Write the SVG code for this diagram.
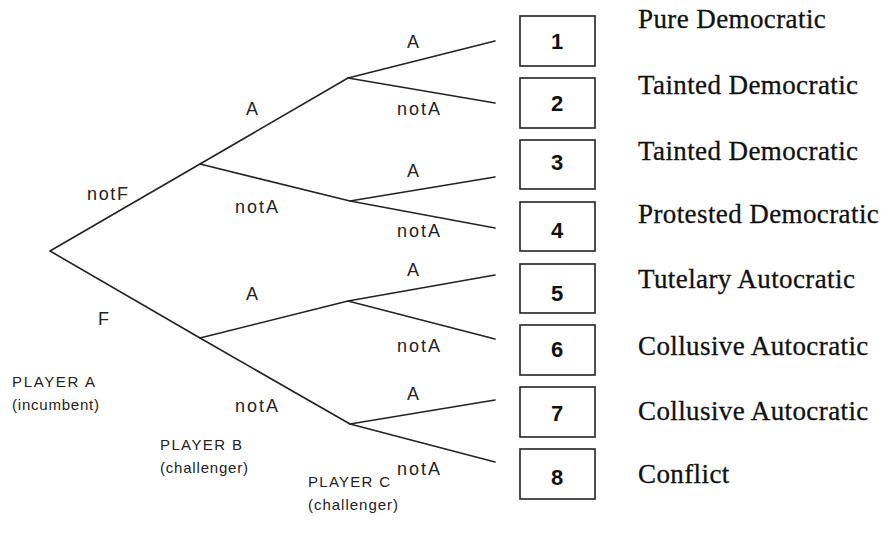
<svg xmlns="http://www.w3.org/2000/svg" width="889" height="542" viewBox="0 0 889 542">
<style>
.edge{stroke:#222;stroke-width:1.6;fill:none;stroke-linecap:round}
.box{fill:#fff;stroke:#222;stroke-width:1.6}
.num{font-family:"Liberation Sans",Arial,sans-serif;font-size:22px;font-weight:bold;fill:#111;text-anchor:middle}
.out{font-family:"Liberation Serif","Times New Roman",serif;font-size:27px;fill:#111;stroke:#111;stroke-width:0.3;letter-spacing:0.4px}
.lbl{font-family:"Liberation Sans",Arial,sans-serif;font-size:18px;fill:#222}
.ply{font-family:"Liberation Sans",Arial,sans-serif;font-size:15px;fill:#222}
</style>
<rect width="889" height="542" fill="#fff"/>
<g id="connectors">
<path class="edge" d="M50,251 L200,164 M50,251 L200,338"/>
<path class="edge" d="M200,164 L348,78 M200,164 L350,201 M200,338 L348,301 M200,338 L350,424"/>
<path class="edge" d="M348,78 L495,41 M348,78 L495,103 M350,201 L495,177 M350,201 L495,228 M348,301 L495,275 M348,301 L495,339 M350,424 L495,400 M350,424 L495,462"/>
<text class="lbl" x="87" y="200" textLength="41">notF</text>
<text class="lbl" x="98" y="325">F</text>
<text class="lbl" x="246" y="115">A</text>
<text class="lbl" x="235" y="213" textLength="43">notA</text>
<text class="lbl" x="246" y="300">A</text>
<text class="lbl" x="235" y="412" textLength="43">notA</text>
<text class="lbl" x="407" y="48">A</text>
<text class="lbl" x="397" y="115" textLength="43">notA</text>
<text class="lbl" x="407" y="177">A</text>
<text class="lbl" x="397" y="237" textLength="43">notA</text>
<text class="lbl" x="407" y="276">A</text>
<text class="lbl" x="397" y="352" textLength="43">notA</text>
<text class="lbl" x="407" y="400">A</text>
<text class="lbl" x="397" y="475" textLength="43">notA</text>
</g>
<g id="player-a">
<text class="ply" x="12" y="387" textLength="83">PLAYER A</text>
<text class="ply" x="12" y="410" textLength="87">(incumbent)</text>
</g>
<g id="player-b">
<text class="ply" x="160" y="450" textLength="82">PLAYER B</text>
<text class="ply" x="160" y="473" textLength="88">(challenger)</text>
</g>
<g id="player-c">
<text class="ply" x="308" y="487" textLength="82">PLAYER C</text>
<text class="ply" x="308" y="510" textLength="90">(challenger)</text>
</g>
<g id="outcome-1"><rect class="box" x="520" y="16" width="75" height="50"/><text class="num" x="557" y="49">1</text><text class="out" x="638" y="28">Pure Democratic</text></g>
<g id="outcome-2"><rect class="box" x="520" y="78" width="75" height="50"/><text class="num" x="557" y="111">2</text><text class="out" x="638" y="94">Tainted Democratic</text></g>
<g id="outcome-3"><rect class="box" x="520" y="140" width="75" height="49"/><text class="num" x="557" y="170">3</text><text class="out" x="638" y="160">Tainted Democratic</text></g>
<g id="outcome-4"><rect class="box" x="520" y="202" width="75" height="49"/><text class="num" x="557" y="238">4</text><text class="out" x="638" y="223">Protested Democratic</text></g>
<g id="outcome-5"><rect class="box" x="520" y="264" width="75" height="49"/><text class="num" x="557" y="301">5</text><text class="out" x="638" y="288">Tutelary Autocratic</text></g>
<g id="outcome-6"><rect class="box" x="520" y="325" width="75" height="50"/><text class="num" x="557" y="357">6</text><text class="out" x="638" y="355">Collusive Autocratic</text></g>
<g id="outcome-7"><rect class="box" x="520" y="387" width="75" height="50"/><text class="num" x="557" y="421">7</text><text class="out" x="638" y="420">Collusive Autocratic</text></g>
<g id="outcome-8"><rect class="box" x="520" y="449" width="75" height="50"/><text class="num" x="557" y="485">8</text><text class="out" x="638" y="483">Conflict</text></g>
</svg>
